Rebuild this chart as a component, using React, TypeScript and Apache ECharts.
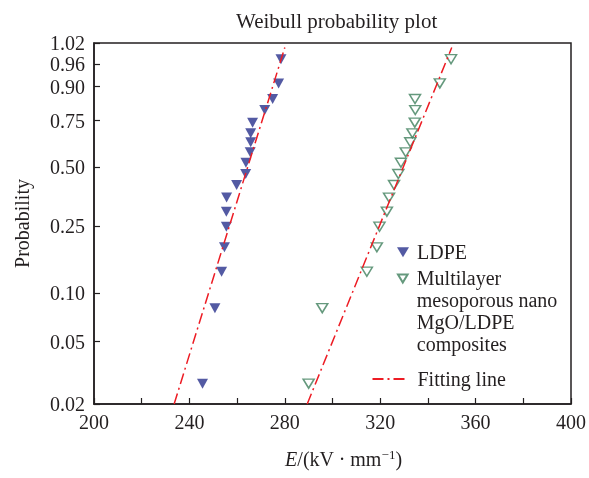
import React, { useEffect, useRef } from "react";
import * as echarts from "echarts";

// Median-rank probabilities (shared by both specimen sets), ascending
const rankProbs = [0.027, 0.081, 0.1355, 0.189, 0.248, 0.3, 0.356, 0.412, 0.465, 0.523, 0.579, 0.634, 0.683, 0.74, 0.803, 0.853, 0.911, 0.969];
// Breakdown strength E (kV/mm)
const ldpeE = [245.5, 250.7, 253.5, 254.7, 255.5, 255.5, 255.6, 259.8, 263.6, 263.7, 265.5, 265.7, 265.7, 266.5, 271.6, 274.9, 277.4, 278.4];
const compE = [290.0, 295.7, 314.4, 318.6, 319.7, 322.8, 323.7, 325.8, 327.6, 328.7, 330.7, 332.6, 333.5, 334.5, 334.7, 334.6, 345.0, 349.7];
// Fitting line end points [E, probability]
const ldpeFit = [[233.6, 0.02], [280.0, 0.984]];
const compFit = [[289.4, 0.02], [350.0, 0.984]];
// Axis ticks
const xLabelStep = 40;
const yTickProbs = [0.02, 0.05, 0.1, 0.25, 0.5, 0.75, 0.9, 0.96, 0.988];
const yTickLabels = ["0.02", "0.05", "0.10", "0.25", "0.50", "0.75", "0.90", "0.96", "1.02"];

const LDPE = "LDPE";
const COMP = "Multilayer\nmesoporous nano\nMgO/LDPE\ncomposites";
const FIT = "Fitting line";

const FONT = "'Liberation Serif', 'Times New Roman', serif";
const INK = "#231f20";
const BLUE = "#28318c";
const GREEN = "#3f7f5c";
const RED = "#ed1c24";
const TRI = "path://M0,0L12,0L6,10Z";

const weib = (p: number) => Math.log(-Math.log(1 - p));

export default function App() {
  const ref = useRef<HTMLDivElement>(null);
  useEffect(() => {
    document.body.style.margin = "0";
    const chart = echarts.init(ref.current!, null, { renderer: "svg" });
    const yVals = yTickProbs.map(weib);
    const labelFor = (v: number) => {
      let best = 0;
      for (let i = 0; i < yVals.length; i++) if (Math.abs(yVals[i] - v) < Math.abs(yVals[best] - v)) best = i;
      return yTickLabels[best];
    };
    const txt = { fontFamily: FONT, fontSize: 20, color: INK };
    chart.setOption({
      animation: false,
      title: {
        text: "Weibull probability plot",
        left: 231,
        top: 5,
        textStyle: { fontFamily: FONT, fontSize: 21, fontWeight: "normal", color: INK },
      },
      grid: { left: 94, top: 43, width: 477, height: 361, show: true, borderColor: INK, borderWidth: 1.5, backgroundColor: "transparent" },
      legend: [
        {
          data: [LDPE], orient: "vertical", left: 397, top: 242.3, padding: 0,
          itemWidth: 18, itemHeight: 10, selectedMode: false, textStyle: txt,
        },
        {
          data: [COMP], orient: "vertical", left: 397, top: 202.5, padding: 0,
          itemWidth: 18, itemHeight: 8, selectedMode: false,
          formatter: (name: string) => "\n\n\n" + name,
          textStyle: { ...txt, lineHeight: 21.7 },
        },
        {
          data: [FIT], orient: "vertical", left: 371.5, top: 369, padding: 0,
          itemWidth: 36, itemHeight: 10, selectedMode: false,
          itemStyle: { opacity: 0 },
          textStyle: { ...txt, padding: [0, 0, 0, 4] },
        },
      ],
      xAxis: {
        type: "value", min: 200, max: 400, interval: 20,
        name: "{i|E}/(kV · mm{s|−1})",
        nameLocation: "middle", nameGap: 44,
        nameTextStyle: {
          fontFamily: FONT, fontSize: 20, color: INK, padding: [0, 0, 0, 22],
          rich: {
            i: { fontFamily: FONT, fontSize: 20, fontStyle: "italic", color: INK, lineHeight: 22 },
            s: { fontFamily: FONT, fontSize: 13, color: INK, verticalAlign: "top", lineHeight: 14 },
          },
        },
        axisLine: { onZero: false, lineStyle: { color: INK, width: 1.5 } },
        axisTick: { inside: true, length: 6, lineStyle: { color: INK, width: 1.2 } },
        axisLabel: {
          margin: 8, ...txt,
          formatter: (v: number) => (Math.round(v) % xLabelStep === 0 ? String(Math.round(v)) : ""),
        },
        splitLine: { show: false },
      },
      yAxis: {
        type: "value", min: weib(0.02), max: weib(0.988),
        name: "Probability", nameLocation: "middle", nameGap: 62,
        nameTextStyle: txt,
        axisLine: { onZero: false, lineStyle: { color: INK, width: 1.5 } },
        axisTick: { inside: true, length: 6, customValues: yVals, lineStyle: { color: INK, width: 1.2 } },
        axisLabel: { customValues: yVals, margin: 9, formatter: (v: number) => labelFor(v), ...txt },
        splitLine: { show: false },
      },
      series: [
        {
          name: LDPE, type: "scatter", symbol: TRI, symbolSize: [11, 10],
          itemStyle: { color: BLUE },
          data: ldpeE.map((e, i) => [e, weib(rankProbs[i])]),
        },
        {
          name: COMP, type: "scatter", symbol: TRI, symbolSize: [11, 9],
          itemStyle: { color: "#ffffff", borderColor: GREEN, borderWidth: 1.5 },
          data: compE.map((e, i) => [e, weib(rankProbs[i])]),
        },
        {
          name: FIT, type: "line", symbol: "none",
          lineStyle: { color: RED, width: 1.5, type: [11, 4, 2, 4] },
          itemStyle: { color: RED },
          data: ldpeFit.map(([e, p]) => [e, weib(p)]),
        },
        {
          name: FIT, type: "line", symbol: "none",
          lineStyle: { color: RED, width: 1.5, type: [11, 4, 2, 4] },
          itemStyle: { color: RED },
          data: compFit.map(([e, p]) => [e, weib(p)]),
        },
      ],
    });
    return () => chart.dispose();
  }, []);
  return <div ref={ref} style={{ position: "fixed", left: 0, top: 0, width: 589, height: 478 }} />;
}
